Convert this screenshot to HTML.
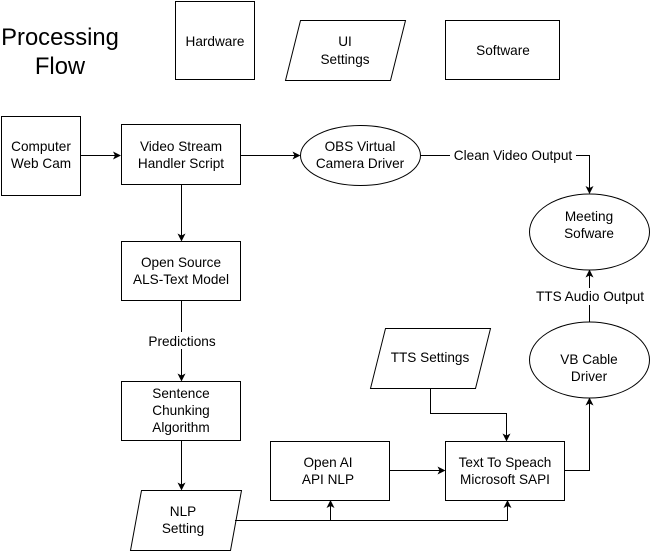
<!DOCTYPE html>
<html><head><style>body{margin:0;background:#fff}svg{display:block}text{font-family:"Liberation Sans",Arial,sans-serif;font-size:13.6px;fill:#000}</style></head>
<body>
<svg width="651" height="551" viewBox="0 0 651 551" xmlns="http://www.w3.org/2000/svg">
<defs><marker id="a" markerWidth="8" markerHeight="8" refX="7" refY="4" orient="auto" markerUnits="userSpaceOnUse"><path d="M0,0 L8,4 L0,8 L2,4 Z" fill="#000"/></marker></defs>
<g fill="none" stroke="#000" stroke-width="1">
<rect x="175.5" y="1.5" width="79" height="78"/>
<path d="M300.5,20.5 H405.5 L390.5,80.5 H285.5 Z"/>
<rect x="445.5" y="20.5" width="114" height="59"/>
<rect x="1.5" y="116.5" width="79" height="79"/>
<rect x="121.5" y="124.5" width="119" height="60"/>
<ellipse cx="360.5" cy="155.5" rx="60" ry="30"/>
<ellipse cx="589.5" cy="232" rx="60" ry="38"/>
<rect x="121.5" y="241.5" width="119" height="59"/>
<rect x="121.5" y="381.5" width="119" height="59"/>
<path d="M141.5,490.5 H241.5 L230.5,550.5 H130.5 Z"/>
<rect x="270.5" y="441.5" width="119" height="59"/>
<path d="M385.5,328.5 H490.5 L475.5,388.5 H370.5 Z"/>
<rect x="445.5" y="441.5" width="119" height="59"/>
<ellipse cx="589.5" cy="360" rx="60" ry="38"/>
<path d="M80.5,155.5 H120" marker-end="url(#a)"/>
<path d="M240.5,155.5 H299.5" marker-end="url(#a)"/>
<path d="M420.5,155.5 H589.5 V193" marker-end="url(#a)"/>
<path d="M181.5,184.5 V240.5" marker-end="url(#a)"/>
<path d="M181.5,300.5 V380.5" marker-end="url(#a)"/>
<path d="M181.5,440.5 V489.5" marker-end="url(#a)"/>
<path d="M235,520.5 H330.5 V501" marker-end="url(#a)"/>
<path d="M330.5,520.5 H507.5 V501" marker-end="url(#a)"/>
<path d="M389.5,470.5 H444.5" marker-end="url(#a)"/>
<path d="M430.5,388.5 V413.5 H506.5 V440.5" marker-end="url(#a)"/>
<path d="M564.5,470.5 H589.5 V398.5" marker-end="url(#a)"/>
<path d="M589.5,322 V270.5" marker-end="url(#a)"/>
</g>
<rect x="145" y="332" width="74" height="17" fill="#fff"/>
<rect x="450" y="147" width="126" height="17" fill="#fff"/>
<rect x="531" y="288" width="118" height="17" fill="#fff"/>
<g text-anchor="middle">
<text x="60" y="45" style="font-size:23.8px">Processing</text>
<text x="60" y="74" style="font-size:23.8px">Flow</text>
<text x="215" y="46">Hardware</text>
<text x="345" y="46">UI</text><text x="345" y="64">Settings</text>
<text x="503" y="55">Software</text>
<text x="41" y="151">Computer</text><text x="41" y="168">Web Cam</text>
<text x="181" y="151">Video Stream</text><text x="181" y="168">Handler Script</text>
<text x="360" y="151">OBS Virtual</text><text x="360" y="168">Camera Driver</text>
<text x="513" y="160">Clean Video Output</text>
<text x="589" y="221">Meeting</text><text x="589" y="238">Sofware</text>
<text x="181" y="267">Open Source</text><text x="181" y="284">ALS-Text Model</text>
<text x="182" y="346">Predictions</text>
<text x="590" y="301">TTS Audio Output</text>
<text x="430" y="362">TTS Settings</text>
<text x="589" y="364">VB Cable</text><text x="589" y="381">Driver</text>
<text x="181" y="398">Sentence</text><text x="181" y="415">Chunking</text><text x="181" y="432">Algorithm</text>
<text x="328" y="467">Open AI</text><text x="328" y="484">API NLP</text>
<text x="505" y="467">Text To Speach</text><text x="505" y="484">Microsoft SAPI</text>
<text x="183" y="516">NLP</text><text x="183" y="533">Setting</text>
</g>
</svg>
</body></html>
